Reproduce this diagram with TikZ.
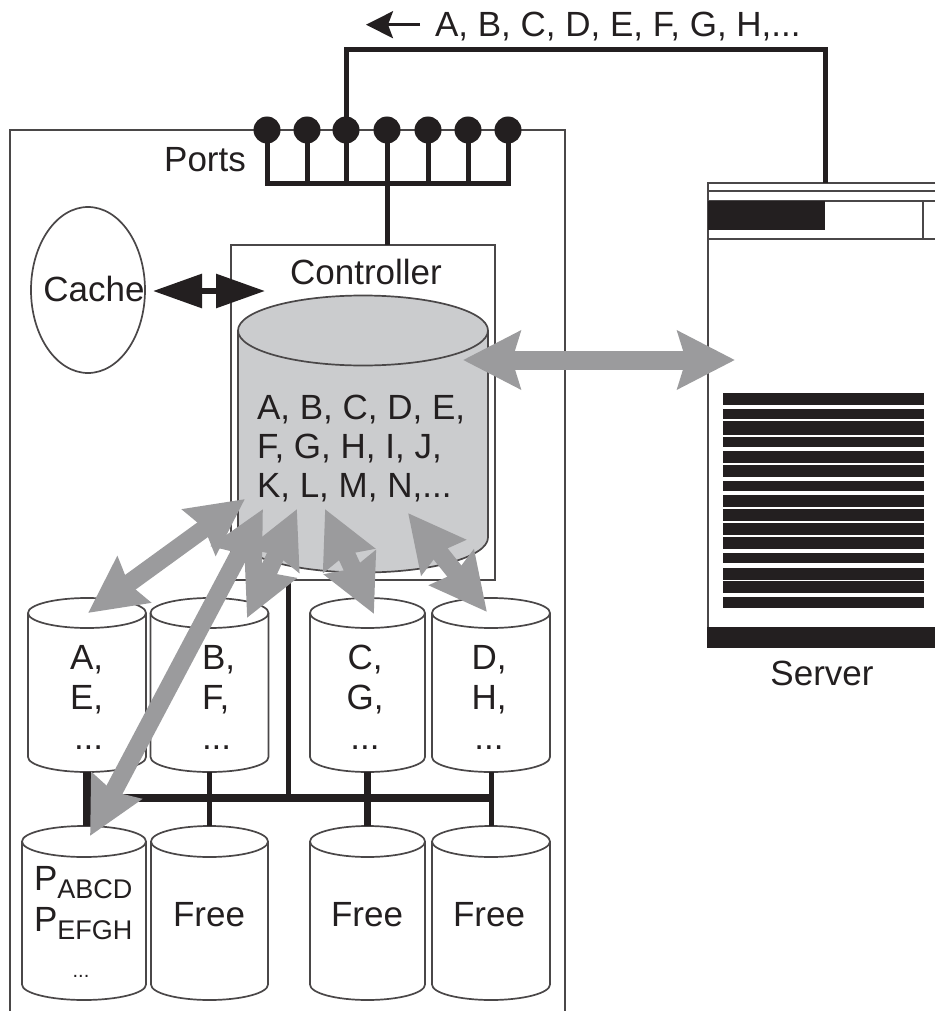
\documentclass[tikz,border=0pt]{standalone}
\usepackage{fontspec}
\setmainfont{Liberation Sans}
\usetikzlibrary{arrows.meta,shapes.geometric}
\definecolor{ink}{HTML}{231F20}
\definecolor{arrowgray}{HTML}{9B9B9D}
\definecolor{diskgray}{HTML}{CBCCCE}
\definecolor{thinline}{HTML}{4A4748}
\tikzset{
  lbl/.style={inner sep=0pt,outer sep=0pt,text=ink,font=\fontsize{35}{39}\selectfont,align=center},
  disklbl/.style={lbl,font=\fontsize{35}{40}\selectfont},
  thin line/.style={draw=thinline,line width=1.7pt},
  thick wire/.style={draw=ink,line width=5pt},
  heavy wire/.style={draw=ink,line width=7.5pt},
  port/.style={circle,fill=ink,minimum size=27pt,inner sep=0pt,outer sep=0pt},
  bigarrow/.style={draw=arrowgray,line width=19pt,{Stealth[length=57pt,width=57pt,inset=8pt]}-{Stealth[length=57pt,width=57pt,inset=8pt]}},
  disk arrow/.style={draw=arrowgray,line width=18pt,{Stealth[length=56pt,width=55pt,inset=6pt]}-{Stealth[length=56pt,width=55pt,inset=6pt]}},
  bar/.style={fill=ink,draw=none}
}
% \diskshape{name}{centre x}{centre y}{width}{height}{end radius}{fill}
\newcommand\diskshape[7]{%
  \node[inner sep=0pt,outer sep=0pt,minimum width=#4 pt,minimum height=#5 pt] (#1) at (#2,#3) {};
  \pgfmathsetmacro\diskrx{#4/2}%
  \draw[thin line,fill=#7] ([yshift=-#6 pt]#1.north west)
     arc[start angle=180,end angle=0,x radius=\diskrx pt,y radius=#6 pt]
     -- ([yshift=#6 pt]#1.south east)
     arc[start angle=0,end angle=-180,x radius=\diskrx pt,y radius=#6 pt] -- cycle;
  \draw[thin line] ([yshift=-#6 pt]#1.north west)
     arc[start angle=180,end angle=360,x radius=\diskrx pt,y radius=#6 pt];
}
\begin{document}
\begin{tikzpicture}[x=1pt,y=-1pt]
\useasboundingbox (0,0) rectangle (935,1011);
% enclosure
\coordinate (encBL) at (10,1011);
\coordinate (encTL) at (10,130);
\coordinate (encTR) at (565,130);
\coordinate (encBR) at (565,1011);
\draw[thin line] (encBL) -- (encTL) -- (encTR) -- (encBR);
% controller box
\node[draw=thinline,line width=1.7pt,minimum width=264pt,minimum height=335pt,inner sep=0pt,outer sep=0pt] (ctrlbox) at (363,412.5) {};
\node[lbl] (ctrllabel) at (366,272) {Controller};
% server
\coordinate (srvTL) at (708,183);
\coordinate (srvTR) at (935,183);
\coordinate (srvBL) at (708,647);
\draw[thin line] (srvTR) -- (srvTL) -- (srvBL);
\draw[thin line] (708,191) -- (935,191);
\draw[thin line] (708,201) -- (935,201);
\draw[thin line] (708,239) -- (935,239);
\draw[thin line] (923,201) -- (923,239);
\fill[bar] (708,201) rectangle (825,230);
\foreach \a/\b in {393/405,409/419,421/435,437/447,451/463,465/477,481/491,495/507,509/521,523/535,537/549,553/563,568/579.5,581/593,597/608}
  \fill[bar] (723,\a) rectangle (924,\b);
\fill[bar] (707,627) rectangle (935,648);
\node[lbl] (serverlabel) at (822,673) {Server};
% big disk
\diskshape{bigdisk}{363}{434}{250}{277}{35}{diskgray}
\node[lbl,align=left,anchor=west] (bigtext) at (257,449) {A, B, C, D, E,\\F, G, H, I, J,\\K, L, M, N,...};
% small disks
\diskshape{da}{87}{685}{118}{174}{15}{white}
\diskshape{db}{209.5}{685}{118}{174}{15}{white}
\diskshape{dc}{367.5}{685}{115}{174}{15}{white}
\diskshape{dd}{491}{685}{118}{174}{15}{white}
\diskshape{pa}{84}{913}{124}{174}{15.5}{white}
\diskshape{pb}{209.5}{913}{117}{174}{15.5}{white}
\diskshape{pc}{367.5}{913}{115}{174}{15.5}{white}
\diskshape{pd}{491}{913}{118}{174}{15.5}{white}
% wiring
\coordinate (busL) at (87,798);
\coordinate (busR) at (493,798);
\coordinate (busMid) at (288,798);
\draw[heavy wire] (busL) -- (busR);
\draw[heavy wire] (da.south) -- (da.south |- pa.north);
\draw[thick wire] (db.south) -- (pb.north);
\draw[heavy wire] (dc.south) -- (pc.north);
\draw[thick wire] (dd.south) -- (pd.north);
\draw[thick wire] (ctrlbox.south -| busMid) -- (busMid);
% disk labels
\node[disklbl,align=left,anchor=west] (ta) at (70,697) {A,\\E,\\\hspace*{4pt}...};
\node[disklbl,align=left,anchor=west] (tb) at (202,697) {B,\\F,\\...};
\node[disklbl] (tc) at (365,697) {C,\\G,\\...};
\node[disklbl] (td) at (489,697) {D,\\H,\\...};
\node[lbl,align=left,anchor=west] (tp) at (34,903) {P\raisebox{-8pt}{\fontsize{27}{27}\selectfont ABCD}\\[2pt]P\raisebox{-8pt}{\fontsize{27}{27}\selectfont EFGH}};
\node[lbl,font=\fontsize{20}{20}\selectfont] (tpd) at (81,976) {...};
\node[lbl] (f1) at (209,915) {Free};
\node[lbl] (f2) at (367,915) {Free};
\node[lbl] (f3) at (489,915) {Free};
% cache
\node[draw=thinline,line width=1.7pt,ellipse,minimum width=114pt,minimum height=166pt,inner sep=0pt,outer sep=0pt] (cache) at (88,290) {};
\node[lbl] (cachelabel) at (94,289) {Cache};
\coordinate (cacheR) at (153,291);
\coordinate (ctrlL) at (265,291);
\draw[draw=ink,line width=6pt,{Triangle[length=49pt,width=33pt]}-{Triangle[length=49pt,width=33pt]}] (cacheR) -- (ctrlL);
% ports
\foreach \n/\x in {1/267,2/307,3/346,4/387,5/428,6/468,7/508}{
  \node[port] (p\n) at (\x,130) {};
  \coordinate (pb\n) at (\x,184);
  \draw[thick wire] (p\n.center) -- (pb\n);
}
\draw[thick wire,line cap=rect] (pb1) -- (pb7);
\draw[thick wire] (pb4) -- (ctrlbox.north -| pb4);
\node[lbl] (portslabel) at (205,160) {Ports};
% host link
\coordinate (linkA) at (346,50);
\coordinate (linkB) at (825,50);
\draw[thick wire,line join=miter] (p3.center) -- (linkA) -- (linkB) -- (srvTL -| linkB);
% top arrow
\coordinate (topR) at (420,24.7);
\coordinate (topL) at (366,24.7);
\draw[draw=ink,line width=2.5pt,-{Stealth[length=27pt,width=27pt,inset=5pt]}] (topR) -- (topL);
\node[lbl,anchor=west] (toptext) at (435,27) {A, B, C, D, E, F, G, H,...};
% grey arrows
\coordinate (hostL) at (463,360);
\coordinate (hostR) at (735,360);
\draw[bigarrow] (hostL) -- (hostR);
\coordinate (a1) at (245,499); \coordinate (a2) at (88,613);
\draw[disk arrow] (a1) -- (a2);
\coordinate (b1) at (297,509); \coordinate (b2) at (247,618);
\draw[disk arrow] (b1) -- (b2);
\coordinate (c1) at (325,509); \coordinate (c2) at (374,614);
\draw[disk arrow] (c1) -- (c2);
\coordinate (d1) at (408,513); \coordinate (d2) at (487,612);
\draw[disk arrow] (d1) -- (d2);
\coordinate (e1) at (263,509); \coordinate (e2) at (90,836);
\draw[disk arrow] (e1) -- (e2);
\end{tikzpicture}
\end{document}
